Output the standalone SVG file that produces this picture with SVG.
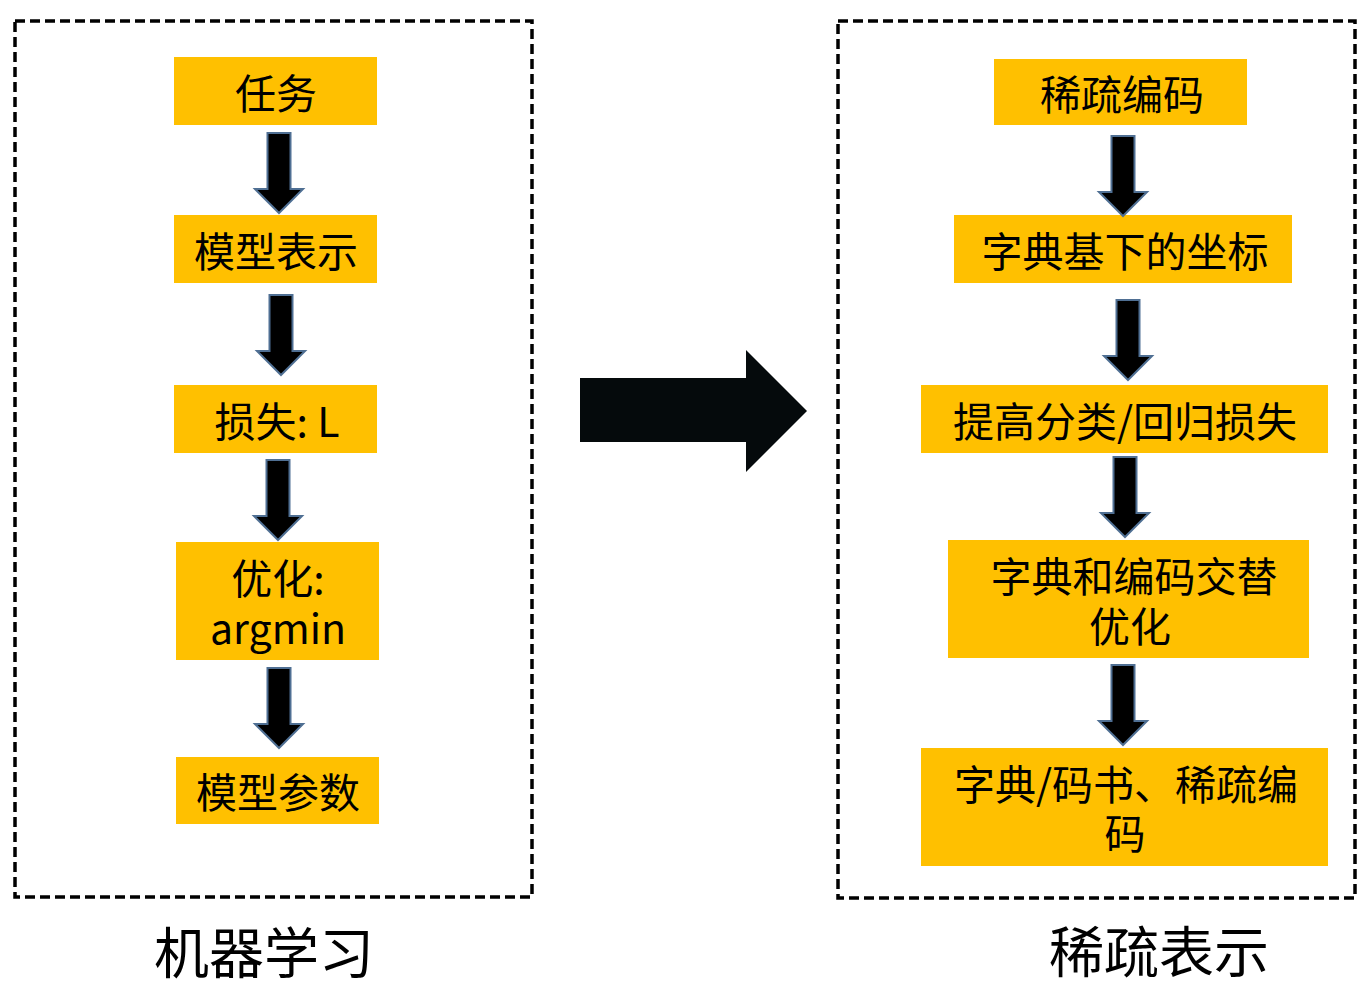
<svg xmlns="http://www.w3.org/2000/svg" xmlns:xlink="http://www.w3.org/1999/xlink" width="1371" height="987" viewBox="0 0 1371 987">
<style>
.frame{fill:none;stroke:#000;stroke-width:3.5;stroke-dasharray:10,5}
.box{fill:#ffc000}
.t{font-family:"Noto Sans CJK SC","Noto Sans",sans-serif;font-size:41px;fill:#000;text-anchor:middle;dominant-baseline:central}
.cap{font-family:"Noto Sans CJK SC","Noto Sans",sans-serif;font-size:55px;fill:#000;text-anchor:middle;dominant-baseline:central}
.arr{fill:#000;stroke:#4f6f93;stroke-width:2}
</style>
<defs>
<path id="down" d="M-11.5,0 H11.5 V56 H24 L0,80 L-24,56 H-11.5 Z"/>
</defs>
<rect width="1371" height="987" fill="#fff"/>
<g id="frame-left"><rect class="frame" x="15" y="21" width="517" height="876"/></g>
<g id="frame-right"><rect class="frame" x="838" y="21" width="517" height="877"/></g>

<g id="n-task"><rect class="box" x="174" y="57" width="203" height="68"/><text class="t" x="276" y="91">任务</text></g>
<g id="n-model"><rect class="box" x="174" y="215" width="203" height="68"/><text class="t" x="276" y="249">模型表示</text></g>
<g id="n-loss"><rect class="box" x="174" y="385" width="203" height="68"/><text class="t" x="277" y="419">损失: L</text></g>
<g id="n-opt"><rect class="box" x="176" y="542" width="203" height="118"/><text class="t"><tspan x="278" y="576">优化:</tspan><tspan x="278" y="626">argmin</tspan></text></g>
<g id="n-param"><rect class="box" x="176" y="757" width="203" height="67"/><text class="t" x="278" y="790">模型参数</text></g>

<g id="n-sparse"><rect class="box" x="994" y="59" width="253" height="66"/><text class="t" x="1122" y="92">稀疏编码</text></g>
<g id="n-coord"><rect class="box" x="954" y="215" width="338" height="68"/><text class="t" x="1125" y="249">字典基下的坐标</text></g>
<g id="n-cls"><rect class="box" x="921" y="385" width="407" height="68"/><text class="t" x="1125" y="419">提高分类/回归损失</text></g>
<g id="n-alt"><rect class="box" x="948" y="540" width="361" height="118"/><text class="t"><tspan x="1134" y="574">字典和编码交替</tspan><tspan x="1130" y="624">优化</tspan></text></g>
<g id="n-dict"><rect class="box" x="921" y="748" width="407" height="118"/><text class="t"><tspan x="1126" y="782">字典/码书、稀疏编</tspan><tspan x="1125" y="831">码</tspan></text></g>

<g id="connectors">
<use xlink:href="#down" class="arr" transform="translate(279,133)"/>
<use xlink:href="#down" class="arr" transform="translate(281,295)"/>
<use xlink:href="#down" class="arr" transform="translate(278,460)"/>
<use xlink:href="#down" class="arr" transform="translate(279,668)"/>
<use xlink:href="#down" class="arr" transform="translate(1123,136)"/>
<use xlink:href="#down" class="arr" transform="translate(1128,300)"/>
<use xlink:href="#down" class="arr" transform="translate(1125,457)"/>
<use xlink:href="#down" class="arr" transform="translate(1123,665)"/>
<path d="M580,378 H746 V350 L807,411 L746,472 V442 H580 Z" fill="#050a0c"/>
</g>

<g id="captions">
<text class="cap" x="264" y="949">机器学习</text>
<text class="cap" x="1159" y="948">稀疏表示</text>
</g>
</svg>
